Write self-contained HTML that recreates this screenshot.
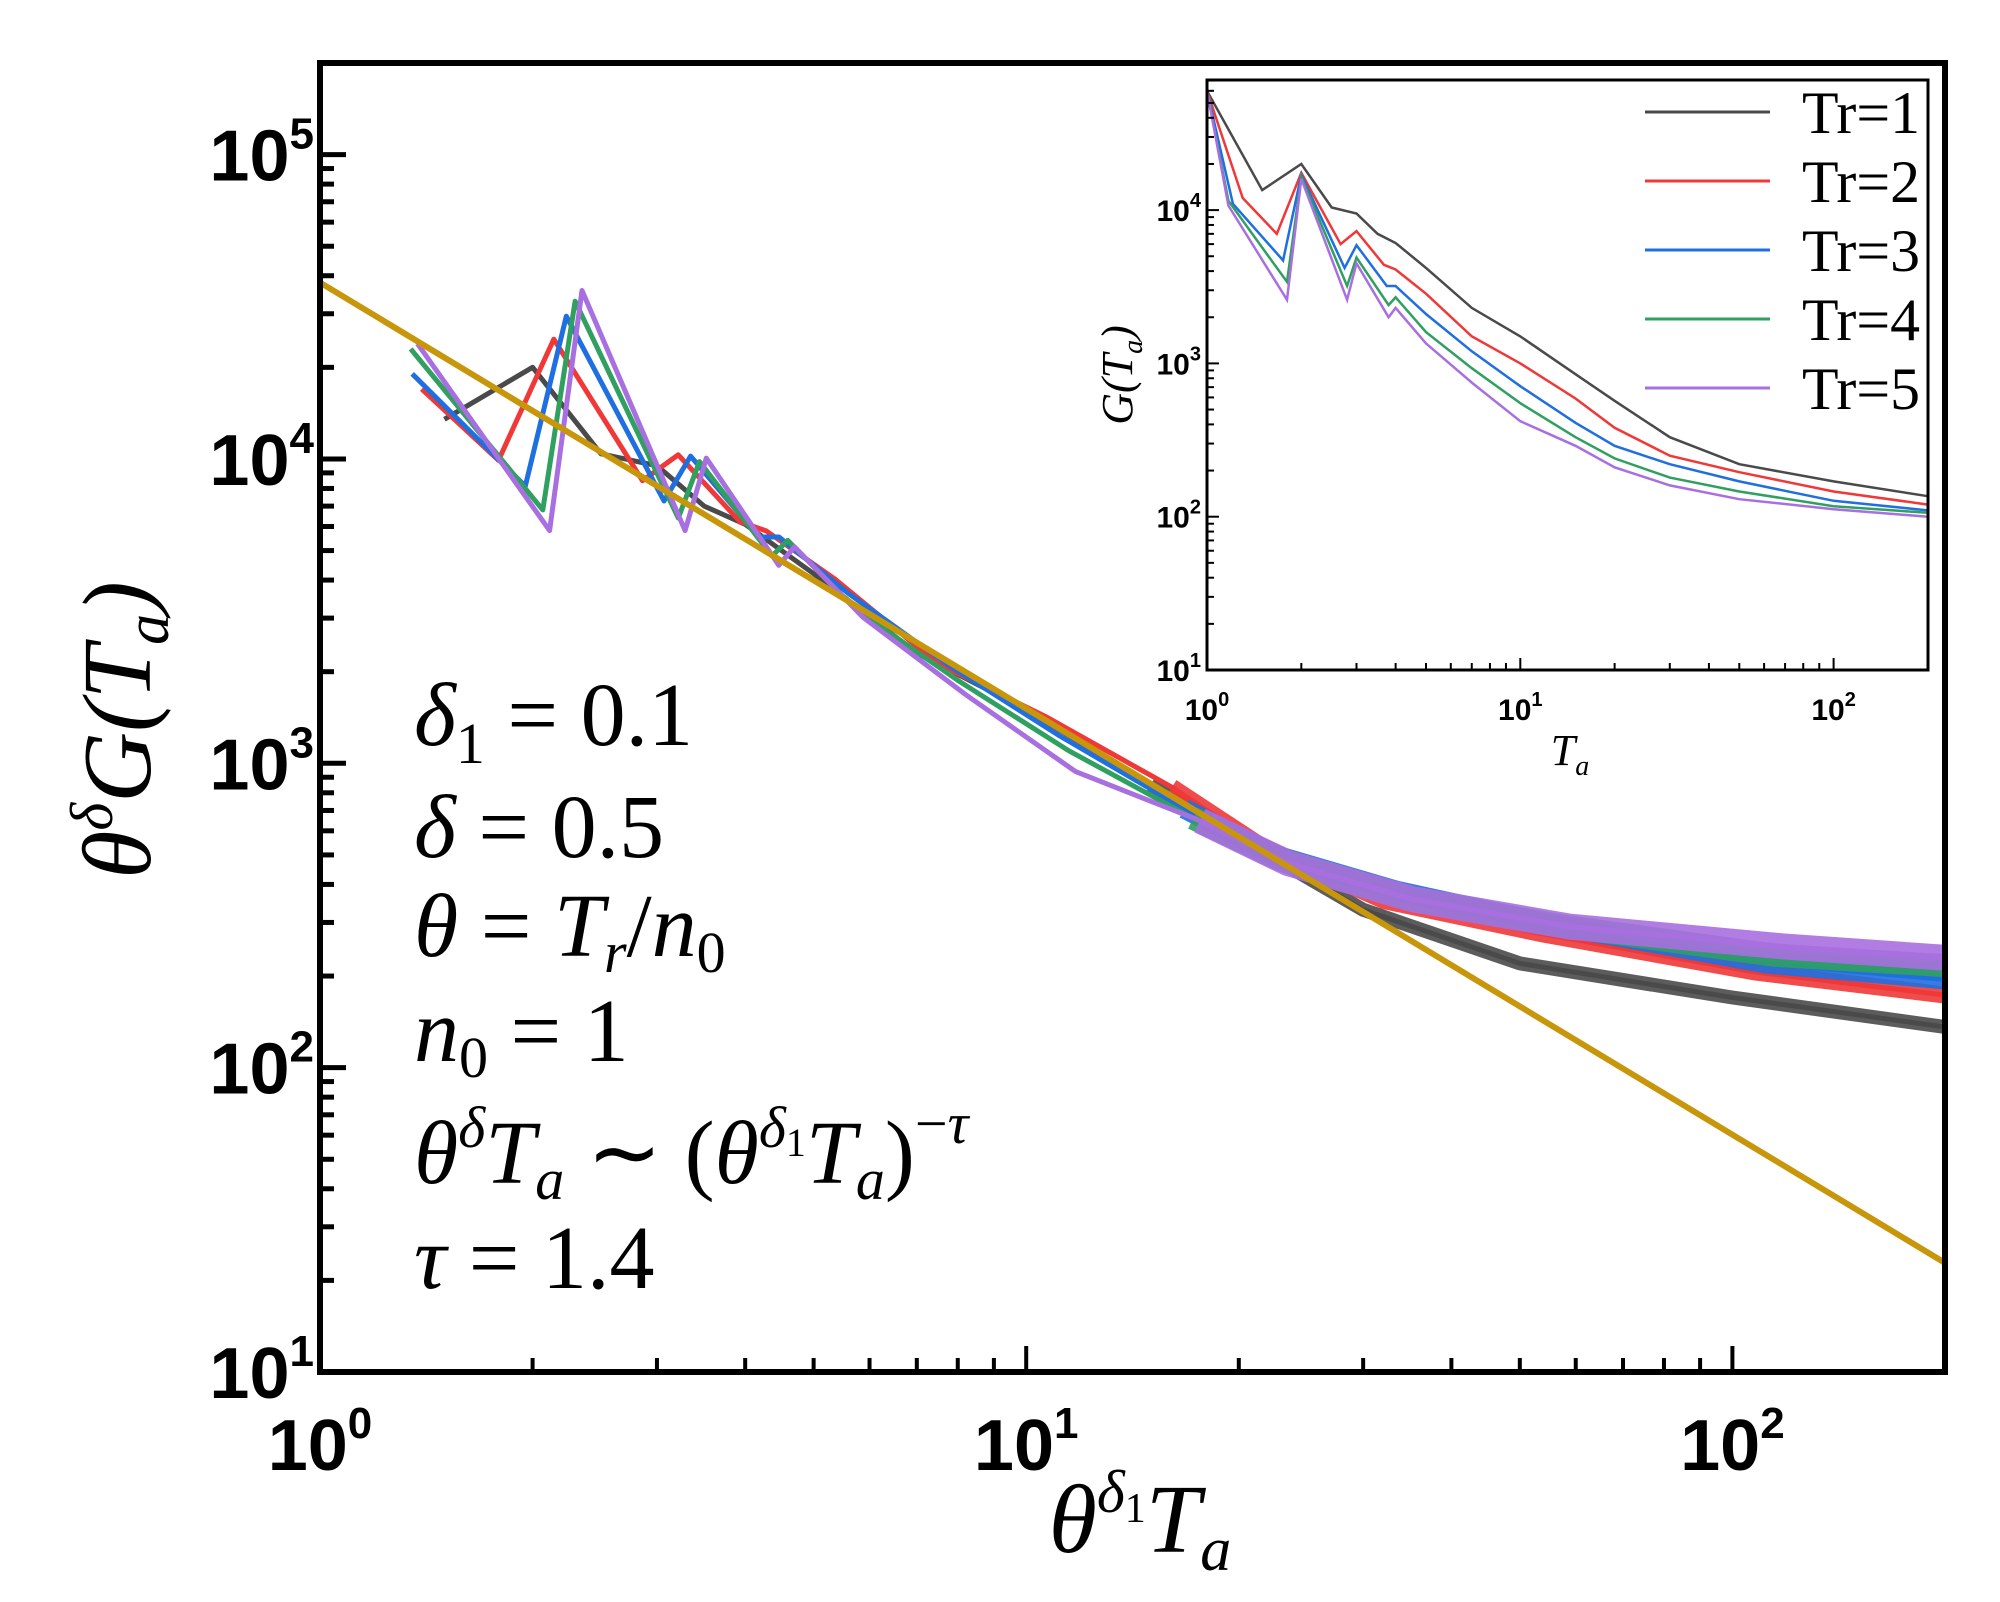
<!DOCTYPE html>
<html><head><meta charset="utf-8"><style>
html,body{margin:0;padding:0;background:#fff;}
svg{display:block;}
.tick{font-family:"Liberation Sans",sans-serif;fill:#000;}
.math{font-family:"Liberation Serif",serif;fill:#000;}
</style></head><body>
<svg id="chart" width="2000" height="1602" viewBox="0 0 2000 1602" xmlns="http://www.w3.org/2000/svg">
<g id="main-series"></g>
<g id="main-axes"></g>
<rect x="1207" y="80" width="721" height="590" fill="#fff"/>
<g id="inset-series"></g>
<g id="inset-axes"></g>
<g id="legend"></g>

<text class="math" font-size="98" font-style="italic" transform="translate(150,730) rotate(-90)" text-anchor="middle">θ<tspan font-size="60" dy="-38">δ</tspan><tspan dy="38">G(T</tspan><tspan font-size="62" dy="18">a</tspan><tspan dy="-18">)</tspan></text>
<text class="math" font-size="98" font-style="italic" x="1140" y="1552" text-anchor="middle">θ<tspan font-size="60" dy="-40">δ</tspan><tspan font-size="42" font-style="normal" dy="10">1</tspan><tspan dy="30">T</tspan><tspan font-size="62" dy="18">a</tspan></text>

<g class="math" font-size="90">
<text x="414" y="745"><tspan font-style="italic">δ</tspan><tspan font-size="58" dy="18">1</tspan><tspan dy="-18"> = 0.1</tspan></text>
<text x="414" y="857"><tspan font-style="italic">δ</tspan> = 0.5</text>
<text x="414" y="956"><tspan font-style="italic">θ</tspan> = <tspan font-style="italic">T</tspan><tspan font-style="italic" font-size="58" dy="16">r</tspan><tspan dy="-16">/</tspan><tspan font-style="italic">n</tspan><tspan font-size="58" dy="16">0</tspan></text>
<text x="414" y="1061"><tspan font-style="italic">n</tspan><tspan font-size="58" dy="16">0</tspan><tspan dy="-16"> = 1</tspan></text>
<text x="414" y="1183"><tspan font-style="italic">θ</tspan><tspan font-style="italic" font-size="58" dy="-36">δ</tspan><tspan font-style="italic" dy="36">T</tspan><tspan font-style="italic" font-size="58" dy="16">a</tspan><tspan dy="-16"> ∼ (</tspan><tspan font-style="italic">θ</tspan><tspan font-style="italic" font-size="58" dy="-36">δ</tspan><tspan font-size="40" dy="9">1</tspan><tspan font-style="italic" dy="27">T</tspan><tspan font-style="italic" font-size="58" dy="16">a</tspan><tspan dy="-16">)</tspan><tspan font-size="58" dy="-40">−</tspan><tspan font-style="italic" font-size="58">τ</tspan></text>
<text x="414" y="1288"><tspan font-style="italic">τ</tspan> = 1.4</text>
</g>
</svg>
<script>
// Inset data: T_a values and G(T_a) per Tr
const trValues = [1, 2, 3, 4, 5];
const seriesColors = ["#4a4a4a", "#f03838", "#1f6fe0", "#2fa060", "#a86fe0"];
const tGray   = [1, 1.5, 2, 2.5, 3, 3.5, 4, 5, 7, 10, 15, 20, 30, 50, 100, 200];
const gGray   = [6e4, 1.35e4, 2e4, 1.04e4, 9.5e3, 7e3, 6.1e3, 4.2e3, 2.3e3, 1.5e3, 850, 570, 330, 220, 170, 136];
const tRed    = [1, 1.3, 1.67, 2, 2.67, 3, 3.67, 4, 5, 7, 10, 15, 20, 30, 50, 100, 200];
const gRed    = [6e4, 1.2e4, 7e3, 1.75e4, 6e3, 7.3e3, 4.4e3, 4.1e3, 2.85e3, 1.5e3, 1e3, 590, 380, 250, 195, 146, 120];
const tBlue   = [1, 1.21, 1.75, 2, 2.75, 3, 3.75, 4, 5, 7, 10, 15, 20, 30, 50, 100, 200];
const gBlue   = [6e4, 1.1e4, 4.7e3, 1.7e4, 4.2e3, 5.9e3, 3.2e3, 3.2e3, 2.1e3, 1.2e3, 710, 410, 290, 220, 170, 127, 110];
const tGreen  = [1, 1.17, 1.8, 2, 2.8, 3, 3.8, 4, 5, 7, 10, 15, 20, 30, 50, 100, 200];
const gGreen  = [6e4, 1.15e4, 3.4e3, 1.65e4, 3.2e3, 4.9e3, 2.4e3, 2.7e3, 1.6e3, 930, 550, 330, 240, 180, 146, 117, 106];
const tPurple = [1, 1.17, 1.8, 2, 2.8, 3, 3.8, 4, 5, 7, 10, 15, 20, 30, 50, 100, 200];
const gPurple = [6e4, 1.07e4, 2.6e3, 1.6e4, 2.6e3, 4.5e3, 2e3, 2.3e3, 1.35e3, 750, 420, 290, 210, 160, 130, 112, 100];
const delta1 = 0.1, delta = 0.5;
const fitAmp = 3.8e4, fitTau = 1.4;
const mainXTicks = ["0", "1", "2"];
const mainYTicks = ["1", "2", "3", "4", "5"];

const tSeries = [tGray, tRed, tBlue, tGreen, tPurple];
const gSeries = [gGray, gRed, gBlue, gGreen, gPurple];
const NS = "http://www.w3.org/2000/svg";
const L = Math.log10;
const MR = 1945, MB = 1372, MT = 63, ML = 320;
function mx(v){ return ML + (MR - ML) / L(200) * L(v); }
function my(v){ return MB - (MB - MT) / L(2e4) * (L(v) - 1); }
function ix(v){ return 1207 + 313.3 * L(v); }
function iy(v){ return 670 - 153.3 * (L(v) - 1); }
function mk(tag, attrs, parent){ const e = document.createElementNS(NS, tag); for (const k in attrs) e.setAttribute(k, attrs[k]); parent.appendChild(e); return e; }

const mainG = document.getElementById('main-series');
const clip = mk('clipPath', {id: 'mclip'}, mainG);
mk('rect', {x: ML, y: MT, width: MR - ML, height: MB - MT}, clip);
const mainInner = mk('g', {'clip-path': 'url(#mclip)'}, mainG);
const insetG = document.getElementById('inset-series');

for (let s = 0; s < 5; s++) {
  const th = trValues[s];
  const sx = Math.pow(th, delta1), sy = Math.pow(th, delta);
  let pm = [], pt = [], pi = [];
  for (let i = 0; i < tSeries[s].length; i++) {
    const t = tSeries[s][i], g = gSeries[s][i];
    pi.push(ix(t).toFixed(1) + ',' + iy(g).toFixed(1));
    if (i > 0) {
      const X = sx * t, Y = sy * g;
      pm.push(mx(X).toFixed(1) + ',' + my(Y).toFixed(1));
      if (X >= 15) pt.push(mx(X).toFixed(1) + ',' + my(Y).toFixed(1));
    }
  }
  const m = mk('polyline', {points: pm.join(' '), fill: 'none', stroke: seriesColors[s], 'stroke-width': 5, 'stroke-linejoin': 'round'}, mainInner);
  
  
  const b = mk('polyline', {points: pt.join(' '), fill: 'none', stroke: seriesColors[s], 'stroke-width': 14 + s * 3, 'stroke-linejoin': 'round', 'stroke-opacity': 0.9}, mainInner);
  
  
  const n = mk('polyline', {points: pi.join(' '), fill: 'none', stroke: seriesColors[s], 'stroke-width': 2.5}, insetG);
  
  
}
const fit = mk('line', {x1: mx(1), y1: my(fitAmp), x2: mx(200), y2: my(fitAmp * Math.pow(200, -fitTau)), stroke: '#c8960a', 'stroke-width': 6}, mainInner);



// main axes
const ax = document.getElementById('main-axes');
const fr = mk('rect', {x: ML, y: MT, width: MR - ML, height: MB - MT, fill: 'none', stroke: '#000', 'stroke-width': 6}, ax);


for (let d = 0; d <= 2; d++) for (let k = 1; k <= 9; k++) {
  const v = k * Math.pow(10, d); if (v > 200) continue;
  const x = mx(v), len = k === 1 ? 26 : 14;
  const t = mk('line', {x1: x, y1: MB, x2: x, y2: MB - len, stroke: '#000', 'stroke-width': 4}, ax);
  
  
}
for (let d = 1; d <= 5; d++) for (let k = 1; k <= 9; k++) {
  const v = k * Math.pow(10, d); if (v > 2e5) continue;
  const y = my(v), len = k === 1 ? 26 : 14;
  const t = mk('line', {x1: ML, y1: y, x2: ML + len, y2: y, stroke: '#000', 'stroke-width': 5}, ax);
  
  
}
mainXTicks.forEach(e => {
  const t = mk('text', {x: mx(Math.pow(10, +e)), y: 1470, 'font-size': 72, 'text-anchor': 'middle', class: 'tick', 'font-weight': 'bold'}, ax);
  t.innerHTML = '10<tspan font-size="44" dy="-32">' + e + '</tspan>';
  
  
});
mainYTicks.forEach(e => {
  const t = mk('text', {x: 314, y: my(Math.pow(10, +e)) + 26, 'font-size': 72, 'text-anchor': 'end', class: 'tick', 'font-weight': 'bold'}, ax);
  t.innerHTML = '10<tspan font-size="44" dy="-32">' + e + '</tspan>';
  
  
});

// inset axes
const ia = document.getElementById('inset-axes');
const ifr = mk('rect', {x: 1207, y: 80, width: 721, height: 590, fill: 'none', stroke: '#000', 'stroke-width': 3}, ia);


for (let d = 0; d <= 2; d++) for (let k = 1; k <= 9; k++) {
  const v = k * Math.pow(10, d); if (v > 200) continue;
  const x = ix(v), len = k === 1 ? 12 : 7;
  const t = mk('line', {x1: x, y1: 670, x2: x, y2: 670 - len, stroke: '#000', 'stroke-width': 2}, ia);
  
  
}
for (let d = 1; d <= 4; d++) for (let k = 1; k <= 9; k++) {
  const v = k * Math.pow(10, d); if (v > 7e4) continue;
  const y = iy(v), len = k === 1 ? 12 : 7;
  const t = mk('line', {x1: 1207, y1: y, x2: 1207 + len, y2: y, stroke: '#000', 'stroke-width': 2}, ia);
  
  
}
["0", "1", "2"].forEach(e => {
  const t = mk('text', {x: ix(Math.pow(10, +e)), y: 720, 'font-size': 30, 'text-anchor': 'middle', class: 'tick', 'font-weight': 'bold'}, ia);
  t.innerHTML = '10<tspan font-size="20" dy="-14">' + e + '</tspan>';
  
  
});
["1", "2", "3", "4"].forEach(e => {
  const t = mk('text', {x: 1201, y: iy(Math.pow(10, +e)) + 11, 'font-size': 30, 'text-anchor': 'end', class: 'tick', 'font-weight': 'bold'}, ia);
  t.innerHTML = '10<tspan font-size="20" dy="-14">' + e + '</tspan>';
  
  
});
const ixt = mk('text', {x: 1570, y: 765, 'font-size': 44, 'text-anchor': 'middle', class: 'math', 'font-style': 'italic'}, ia);
ixt.innerHTML = 'T<tspan font-size="28" dy="10">a</tspan>';


const iyt = mk('text', {transform: 'translate(1132,375) rotate(-90)', 'font-size': 44, 'text-anchor': 'middle', class: 'math', 'font-style': 'italic'}, ia);
iyt.innerHTML = 'G(T<tspan font-size="28" dy="10">a</tspan><tspan dy="-10">)</tspan>';



// legend
const lg = document.getElementById('legend');
trValues.forEach((tr, s) => {
  const y = 112 + s * 69;
  const l = mk('line', {x1: 1645, y1: y, x2: 1770, y2: y, stroke: seriesColors[s], 'stroke-width': 3}, lg);
  
  
  const t = mk('text', {x: 1802, y: y + 21, 'font-size': 60, class: 'math', textLength: 118, lengthAdjust: 'spacingAndGlyphs'}, lg);
  t.textContent = 'Tr=' + tr;
  
  
});
</script>
</body></html>
